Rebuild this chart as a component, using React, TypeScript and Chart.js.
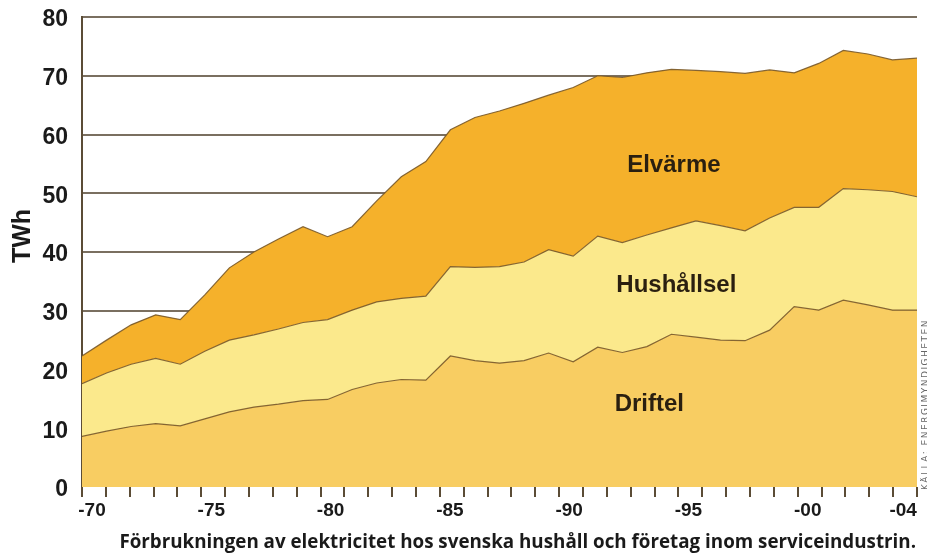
import React, { useEffect, useRef } from "react";
import { Chart, registerables } from "chart.js";

Chart.register(...registerables);

// Years of the data series (1970–2004)
const years: number[] = [
  1970, 1971, 1972, 1973, 1974, 1975, 1976, 1977, 1978, 1979,
  1980, 1981, 1982, 1983, 1984, 1985, 1986, 1987, 1988, 1989,
  1990, 1991, 1992, 1993, 1994, 1995, 1996, 1997, 1998, 1999,
  2000, 2001, 2002, 2003, 2004,
];

// TWh per year (stacked: Driftel at bottom, Hushållsel, Elvärme on top)
const driftel: number[] = [
  8.6, 9.5, 10.3, 10.8, 10.4, 11.6, 12.8, 13.6, 14.1, 14.7,
  14.9, 16.6, 17.7, 18.3, 18.2, 22.3, 21.5, 21.1, 21.5, 22.8,
  21.3, 23.8, 22.9, 23.9, 26.0, 25.5, 25.0, 24.9, 26.7, 30.7,
  30.1, 31.8, 31.0, 30.1, 30.1,
];
const hushallsel: number[] = [
  9.0, 9.9, 10.6, 11.1, 10.5, 11.5, 12.2, 12.3, 12.8, 13.3,
  13.6, 13.5, 13.8, 13.8, 14.3, 15.2, 15.9, 16.4, 16.8, 17.6,
  18.0, 18.9, 18.7, 19.0, 18.1, 19.8, 19.5, 18.7, 19.1, 16.9,
  17.5, 19.0, 19.6, 20.2, 19.3,
];
const elvarme: number[] = [
  4.7, 5.6, 6.7, 7.4, 7.6, 9.6, 12.3, 14.1, 15.3, 16.3,
  14.1, 14.2, 17.2, 20.7, 22.9, 23.3, 25.5, 26.5, 27.0, 26.3,
  28.7, 27.3, 28.1, 27.6, 27.0, 25.6, 26.2, 26.8, 25.2, 22.9,
  24.5, 23.5, 23.1, 22.4, 23.6,
];

// Tick axis (drawn axis runs one year further than the data)
const tickYearMin = 1970;
const tickYearMax = 2005;
const labelledYears: number[] = [1970, 1975, 1980, 1985, 1990, 1995, 2000, 2004];
const yTicks: number[] = [0, 10, 20, 30, 40, 50, 60, 70, 80];

const seriesNames = ["Driftel", "Hushållsel", "Elvärme"];
// label anchor (year, TWh) for the in-chart series names
const labelYears: number[] = [1993.1, 1994.2, 1994.1];
const labelValues: number[] = [14.0, 34.4, 54.8];

const caption =
  "Förbrukningen av elektricitet hos svenska hushåll och företag inom serviceindustrin.";
const source = "KÄLLA: ENERGIMYNDIGHETEN";

const COL_DRIFT = "#F8CD62";
const COL_HUSH = "#FBE98C";
const COL_ELV = "#F5B12B";
const COL_EDGE = "rgba(120,88,40,0.9)";
const COL_GRID = "rgba(70,55,35,0.72)";
const COL_AXIS = "#5b4c36";

const overlayPlugin = {
  id: "overlayText",
  afterDraw(chart: any) {
    const ctx = chart.ctx as CanvasRenderingContext2D;
    const xs = chart.scales.x;
    const ys = chart.scales.y;
    ctx.save();
    // series names
    ctx.fillStyle = "#2a1f10";
    ctx.font = 'bold 24px "Liberation Sans", Arial, sans-serif';
    ctx.textAlign = "center";
    ctx.textBaseline = "middle";
    seriesNames.forEach((n, i) => {
      ctx.fillText(n, xs.getPixelForValue(labelYears[i]), ys.getPixelForValue(labelValues[i]));
    });
    // y unit
    ctx.save();
    ctx.translate(23, 236);
    ctx.rotate(-Math.PI / 2);
    ctx.fillStyle = "#1a1a1a";
    ctx.font = 'bold 25px "Liberation Sans", Arial, sans-serif';
    ctx.fillText("TWh", 0, 0);
    ctx.restore();
    // caption
    ctx.fillStyle = "#1a1a1a";
    ctx.font = 'bold 18.8px "Open Sans", "Noto Sans", sans-serif';
    ctx.textAlign = "right";
    ctx.textBaseline = "alphabetic";
    ctx.fillText(caption, chart.chartArea.right - 1, 548);
    // source (vertical)
    ctx.save();
    ctx.translate(926, 490);
    ctx.rotate(-Math.PI / 2);
    ctx.fillStyle = "#666";
    ctx.font = '9px "DejaVu Sans", sans-serif';
    (ctx as any).letterSpacing = "1.5px";
    ctx.textAlign = "left";
    ctx.textBaseline = "middle";
    ctx.fillText(source, 0, 0);
    ctx.restore();
    ctx.restore();
  },
};

export default function App() {
  const canvasRef = useRef<HTMLCanvasElement | null>(null);

  useEffect(() => {
    document.body.style.margin = "0";
    const canvas = canvasRef.current;
    if (!canvas) return;
    const pts = (arr: number[]) => arr.map((v, i) => ({ x: years[i], y: v }));
    const common = {
      pointRadius: 0,
      borderColor: COL_EDGE,
      borderWidth: 1.2,
      tension: 0,
      xAxisID: "x",
      yAxisID: "y",
    };
    const chart = new Chart(canvas, {
      type: "line",
      data: {
        datasets: [
          { ...common, label: seriesNames[0], data: pts(driftel), backgroundColor: COL_DRIFT, fill: "origin" },
          { ...common, label: seriesNames[1], data: pts(hushallsel), backgroundColor: COL_HUSH, fill: "-1" },
          { ...common, label: seriesNames[2], data: pts(elvarme), backgroundColor: COL_ELV, fill: "-1" },
        ] as any,
      },
      options: {
        animation: false,
        responsive: false,
        maintainAspectRatio: false,
        layout: { padding: { left: 0, right: 10, top: 17, bottom: 0 } },
        plugins: {
          legend: { display: false },
          tooltip: { enabled: false },
          title: { display: false },
        },
        scales: {
          x: {
            type: "linear",
            display: false,
            min: years[0],
            max: years[years.length - 1],
          },
          x2: {
            type: "linear",
            position: "bottom",
            min: tickYearMin,
            max: tickYearMax,
            z: 1,
            afterFit: (s: any) => {
              s.height = 68;
              s.paddingLeft = 0;
              s.paddingRight = 0;
            },
            afterBuildTicks: (s: any) => {
              const t = [];
              for (let v = tickYearMin; v <= tickYearMax; v++) t.push({ value: v });
              s.ticks = t;
            },
            ticks: {
              autoSkip: false,
              maxRotation: 0,
              padding: 2,
              labelOffset: 10,
              color: "#1a1a1a",
              font: { family: '"Liberation Sans", Arial, sans-serif', weight: "bold", size: 19 },
              callback: (v: any) =>
                labelledYears.includes(Number(v)) ? "-" + String(Number(v) % 100).padStart(2, "0") : "",
            },
            grid: {
              drawOnChartArea: false,
              drawTicks: true,
              tickLength: 10,
              color: COL_AXIS,
              lineWidth: 2,
            },
            border: { display: false },
          },
          y: {
            type: "linear",
            stacked: true,
            min: 0,
            max: 80,
            z: 1,
            afterFit: (s: any) => {
              s.width = 82;
              s.paddingTop = 0;
              s.paddingBottom = 0;
            },
            afterBuildTicks: (s: any) => {
              s.ticks = yTicks.map((v) => ({ value: v }));
            },
            ticks: {
              padding: 14,
              labelOffset: 3,
              color: "#1a1a1a",
              font: { family: '"Liberation Sans", Arial, sans-serif', weight: "bold", size: 23 },
            },
            grid: {
              color: (c: any) => (c.tick && c.tick.value === 0 ? "rgba(0,0,0,0)" : COL_GRID),
              lineWidth: 2,
              drawTicks: false,
            },
            border: { display: true, color: COL_AXIS, width: 2 },
          },
        },
      } as any,
      plugins: [overlayPlugin],
    });
    return () => chart.destroy();
  }, []);

  return (
    <div style={{ width: 927, height: 555, position: "relative", background: "#fff" }}>
      <canvas ref={canvasRef} width={927} height={555} style={{ display: "block" }} />
    </div>
  );
}
